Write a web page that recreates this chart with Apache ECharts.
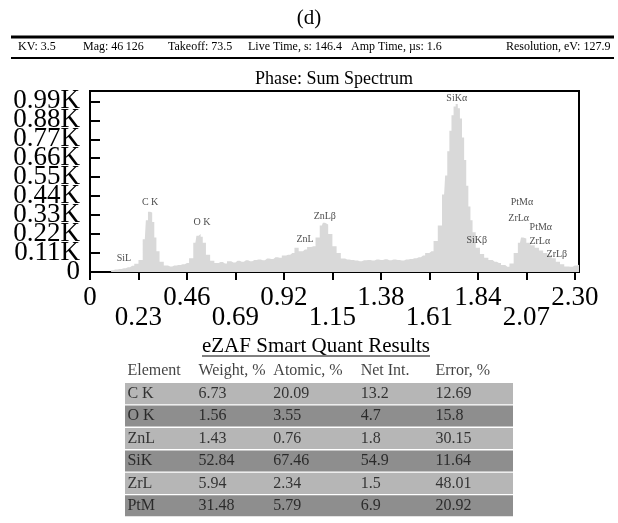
<!DOCTYPE html>
<html>
<head>
<meta charset="utf-8">
<script src="https://cdn.jsdelivr.net/npm/echarts@6/dist/echarts.min.js"></script>
<style>
  html, body { margin: 0; padding: 0; background: #fff; }
  #echar { width: 618px; height: 523px; }
</style>
</head>
<body>
<div id="echar"></div>
<script>
// spectrum, energy in keV and counts per channel
var energy = [0.10, 0.12, 0.14, 0.16, 0.18, 0.20, 0.22, 0.24, 0.26, 0.27, 0.28, 0.29, 0.30, 0.31, 0.32, 0.34, 0.36, 0.38,
    0.40, 0.42, 0.44, 0.46, 0.48, 0.50, 0.51, 0.52, 0.53, 0.54, 0.56, 0.58, 0.60, 0.62, 0.64, 0.66, 0.68, 0.70, 0.72,
    0.74, 0.76, 0.78, 0.80, 0.82, 0.84, 0.86, 0.88, 0.90, 0.92, 0.94, 0.96, 0.98, 1.00, 1.02, 1.04, 1.06, 1.08, 1.10,
    1.11, 1.12, 1.14, 1.16, 1.18, 1.20, 1.22, 1.24, 1.26, 1.28, 1.30, 1.32, 1.34, 1.36, 1.38, 1.40, 1.42, 1.44, 1.46,
    1.48, 1.50, 1.52, 1.54, 1.56, 1.58, 1.60, 1.62, 1.64, 1.66, 1.68, 1.69, 1.70, 1.71, 1.72, 1.73, 1.74, 1.75, 1.76,
    1.77, 1.78, 1.79, 1.80, 1.81, 1.82, 1.84, 1.86, 1.88, 1.90, 1.92, 1.94, 1.96, 1.98, 2.00, 2.02, 2.04, 2.05, 2.06,
    2.08, 2.10, 2.12, 2.14, 2.16, 2.18, 2.20, 2.22, 2.24, 2.26, 2.28, 2.30, 2.32];
var counts = [10, 14, 18, 22, 28, 36, 48, 70, 190, 300, 350, 345, 290, 200, 120, 60, 38, 32,
    38, 40, 45, 52, 80, 170, 210, 220, 205, 170, 100, 65, 52, 58, 50, 62, 55, 65, 60,
    68, 62, 70, 72, 68, 78, 75, 85, 82, 95, 100, 110, 140, 120, 130, 145, 150, 200, 270,
    285, 275, 220, 150, 110, 78, 72, 70, 66, 62, 68, 70, 66, 72, 70, 74, 68, 72, 70,
    66, 72, 75, 80, 85, 95, 110, 120, 180, 270, 450, 560, 700, 820, 910, 960, 975, 950, 890,
    780, 650, 500, 380, 300, 230, 140, 105, 82, 70, 60, 52, 40, 30, 50, 110, 170, 200, 195,
    170, 155, 140, 125, 110, 95, 80, 60, 45, 32, 30, 38, 42];

// peak markers
var peakNames = ['SiL', 'C K', 'O K', 'ZnL', 'ZnLβ', 'SiKα', 'SiKβ', 'PtMα', 'ZrLα', 'PtMα', 'ZrLα', 'ZrLβ'];
var peakE = [0.161, 0.285, 0.531, 1.02, 1.114, 1.74, 1.835, 2.049, 2.034, 2.139, 2.134, 2.215];
var peakY = [81, 405, 290, 191, 324, 1007, 185, 405, 313, 260, 180, 104];

// acquisition info
var metaText = ['KV: 3.5', 'Mag: 46\u2009126', 'Takeoff: 73.5', 'Live Time, s: 146.4', 'Amp Time, µs: 1.6', 'Resolution, eV: 127.9'];

// quant table
var tableHead = ['Element', 'Weight, %', 'Atomic, %', 'Net Int.', 'Error, %'];
var elements = ['C K', 'O K', 'ZnL', 'SiK', 'ZrL', 'PtM'];
var weightPct = ['6.73', '1.56', '1.43', '52.84', '5.94', '31.48'];
var atomicPct = ['20.09', '3.55', '0.76', '67.46', '2.34', '5.79'];
var netInt = ['13.2', '4.7', '1.8', '54.9', '1.5', '6.9'];
var errorPct = ['12.69', '15.8', '30.15', '11.64', '48.01', '20.92'];

var serif = "'Liberation Serif', 'Times New Roman', serif";
var metaX = [18, 83, 168, 248, 351, 506];
var colX = [0.005, 0.188, 0.381, 0.606, 0.799];

var myChart = echarts.init(document.getElementById('echar'));

var spec = [];
for (var i = 0; i < energy.length; i++) spec.push([energy[i], counts[i]]);

var peaks = [];
for (var i = 0; i < peakNames.length; i++) peaks.push({ name: peakNames[i], value: [peakE[i], peakY[i]] });

var rowIds = ['head'].concat(elements);
var bands = [{ value: 0, itemStyle: { color: 'transparent' } }];
for (var i = 0; i < elements.length; i++) {
    bands.push({ value: 1, itemStyle: { color: i % 2 ? '#8e8e8e' : '#b6b6b6' } });
}

var cols = [elements, weightPct, atomicPct, netInt, errorPct];
var cells = [];
for (var c = 0; c < cols.length; c++) {
    cells.push([colX[c], 0, tableHead[c]]);
    for (var r = 0; r < cols[c].length; r++) cells.push([colX[c], r + 1, cols[c][r]]);
}

var graphics = [
    { type: 'text', style: { text: '(d)', x: 309, y: 18, textAlign: 'center', textVerticalAlign: 'middle', font: '21px ' + serif, fill: '#000' } },
    { type: 'line', shape: { x1: 11, y1: 37, x2: 614, y2: 37 }, style: { stroke: '#000', lineWidth: 3 } },
    { type: 'line', shape: { x1: 11, y1: 58, x2: 614, y2: 58 }, style: { stroke: '#000', lineWidth: 2 } },
    { type: 'text', style: { text: 'Phase: Sum Spectrum', x: 334, y: 79, textAlign: 'center', textVerticalAlign: 'middle', font: '18px ' + serif, fill: '#000' } },
    { type: 'text', style: { text: 'eZAF Smart Quant Results', x: 316, y: 346, textAlign: 'center', textVerticalAlign: 'middle', font: '21px ' + serif, fill: '#000' } },
    { type: 'line', shape: { x1: 202, y1: 356, x2: 430, y2: 356 }, style: { stroke: '#000', lineWidth: 1 } }
];
metaText.forEach(function(t, i) {
    graphics.push({ type: 'text', style: { text: t, x: metaX[i], y: 47, textVerticalAlign: 'middle', font: '12px ' + serif, fill: '#000' } });
});

var yLabelStyle = {
    margin: 10,
    color: '#000',
    fontFamily: serif,
    fontSize: 27,
    lineHeight: 14
};

var option = {
    backgroundColor: '#fff',
    animation: false,
    graphic: graphics,
    grid: [
        { left: 90, top: 91, width: 489, height: 181, show: true, borderColor: '#000', borderWidth: 2, backgroundColor: 'transparent' },
        { left: 125, top: 360, width: 388, height: 157 }
    ],
    xAxis: [{
        type: 'value',
        gridIndex: 0,
        min: 0,
        max: 2.32,
        interval: 0.23,
        splitLine: { show: false },
        axisLine: { show: false },
        axisTick: { show: true, inside: false, length: 8, lineStyle: { color: '#000', width: 2 } },
        axisLabel: {
            margin: 16,
            showMinLabel: true,
            showMaxLabel: false,
            color: '#000',
            fontFamily: serif,
            fontSize: 27,
            lineHeight: 20,
            formatter: function(v) {
                var k = Math.round(v / 0.23);
                var s = v === 0 ? '0' : v.toFixed(2);
                return k % 2 ? '\n' + s : s;
            }
        }
    }, {
        type: 'value',
        gridIndex: 1,
        min: 0,
        max: 1,
        show: false
    }],
    yAxis: [{
        type: 'value',
        gridIndex: 0,
        position: 'left',
        min: 0,
        max: 1050,
        interval: 110,
        splitLine: { show: false },
        axisLine: { show: false },
        axisTick: { show: true, inside: true, length: 10, lineStyle: { color: '#000', width: 2 } },
        axisLabel: Object.assign({}, yLabelStyle, {
            showMinLabel: false,
            showMaxLabel: false,
            formatter: function(v) {
                return (v / 1000).toFixed(2) + 'K';
            }
        })
    }, {
        type: 'category',
        gridIndex: 1,
        inverse: true,
        data: rowIds,
        show: false
    }, {
        // second left axis only to carry the "0" label
        type: 'value',
        gridIndex: 0,
        position: 'left',
        offset: 0,
        min: 0,
        max: 1050,
        interval: 110,
        splitLine: { show: false },
        axisLine: { show: false },
        axisTick: { show: false },
        axisLabel: Object.assign({}, yLabelStyle, {
            showMinLabel: true,
            showMaxLabel: false,
            formatter: function(v) {
                return v === 0 ? '0' : '';
            }
        })
    }],
    series: [{
        type: 'line',
        xAxisIndex: 0,
        yAxisIndex: 0,
        data: spec,
        showSymbol: false,
        step: 'middle',
        lineStyle: { width: 0 },
        areaStyle: { color: '#d9d9d9', opacity: 1 },
        z: 1
    }, {
        type: 'scatter',
        xAxisIndex: 0,
        yAxisIndex: 0,
        data: peaks,
        symbolSize: 1,
        itemStyle: { color: 'transparent' },
        label: {
            show: true,
            position: 'inside',
            formatter: '{b}',
            color: '#222',
            fontFamily: serif,
            fontSize: 10
        },
        z: 3
    }, {
        type: 'bar',
        xAxisIndex: 1,
        yAxisIndex: 1,
        data: bands,
        barWidth: '94%',
        silent: true
    }, {
        type: 'scatter',
        xAxisIndex: 1,
        yAxisIndex: 1,
        data: cells,
        symbolSize: 1,
        itemStyle: { color: 'transparent' },
        label: {
            show: true,
            position: 'right',
            distance: 0,
            formatter: function(p) { return p.value[2]; },
            color: '#111',
            fontFamily: serif,
            fontSize: 16
        },
        z: 3
    }]
};

myChart.setOption(option);
</script>
</body>
</html>
